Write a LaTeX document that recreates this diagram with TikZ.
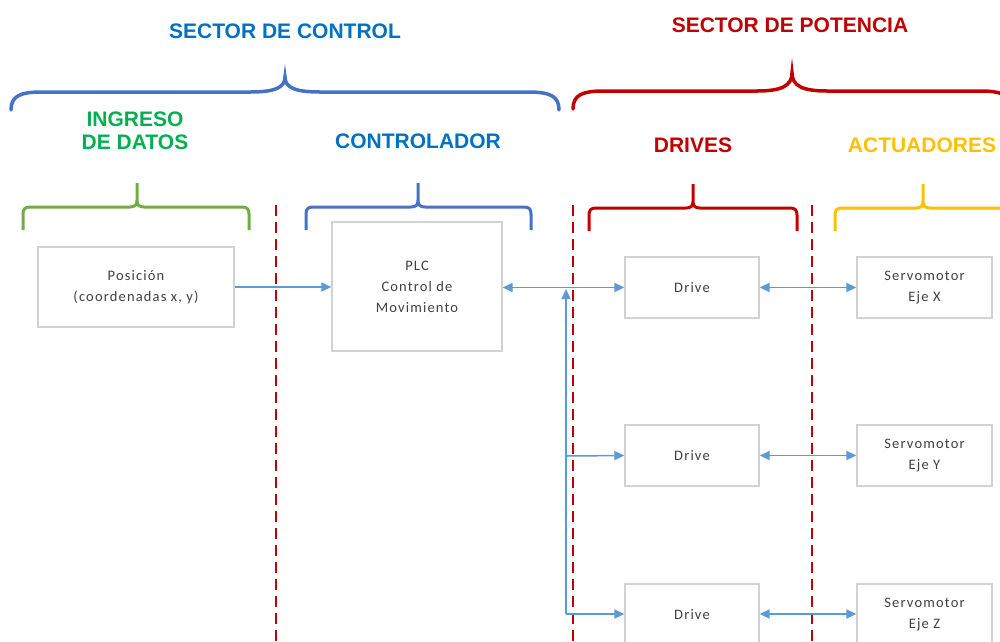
\documentclass[tikz,border=0pt]{standalone}
\usepackage{fontspec}
\setmainfont{Liberation Sans}
\newfontfamily\boxfont[LetterSpace=8]{Carlito}
\usetikzlibrary{arrows.meta,shadows}
\definecolor{hblue}{RGB}{0,112,192}
\definecolor{bblue}{RGB}{68,114,196}
\definecolor{hgreen}{RGB}{0,176,80}
\definecolor{bgreen}{RGB}{112,173,71}
\definecolor{dred}{RGB}{192,0,0}
\definecolor{gold}{RGB}{255,192,0}
\definecolor{ablue}{RGB}{91,155,213}
\definecolor{txtgray}{RGB}{64,64,64}
\begin{document}
\begin{tikzpicture}[x=1pt,y=-1pt,
  heading/.style={font=\fontsize{21}{25}\selectfont\bfseries, inner sep=0pt, align=center},
  bigbrace/.style={line width=3.5pt, line cap=round},
  smallbrace/.style={line width=3pt},
  divider/.style={dred, line width=2.4pt, dash pattern=on 11pt off 6pt},
  blk/.style={draw=gray!35, line width=1.3pt, fill=white, inner sep=0pt,
    font=\boxfont\fontsize{14.5}{21}\selectfont, text=txtgray, align=center,
    drop shadow={shadow xshift=1.2pt, shadow yshift=-1.2pt, opacity=0.12, fill=black}},
  arr/.style={ablue, line width=1.5pt, -{Triangle[length=10pt,width=9pt]}},
  darr/.style={ablue, line width=1.5pt, {Triangle[length=10pt,width=9pt]}-{Triangle[length=10pt,width=9pt]}}
]
\clip (0,0) rectangle (1000,641);
\fill[white] (0,0) rectangle (1000,641);

% headings
\node[heading, text=hblue] (hctl) at (285,31) {SECTOR DE CONTROL};
\node[heading, text=dred] (hpot) at (790,25) {SECTOR DE POTENCIA};
\node[heading, text=hgreen] (hing) at (135,131) {INGRESO\\[-2pt]DE DATOS};
\node[heading, text=hblue] (hcon) at (418,141) {CONTROLADOR};
\node[heading, text=dred] (hdrv) at (693,145) {DRIVES};
\node[heading, text=gold] (hact) at (922,145) {ACTUADORES};

% big braces
\draw[bigbrace, bblue] (11,110) .. controls (11,96) and (20,92) .. (42,92) -- (250,92)
  .. controls (274,92) and (285,88) .. (285,77)
  .. controls (285,88) and (296,92) .. (320,92) -- (528,92)
  .. controls (550,92) and (559,96) .. (559,110);
\draw[bigbrace, dred] (573,109) .. controls (573,95) and (582,91) .. (604,91) -- (757,91)
  .. controls (781,91) and (792,86) .. (792,73)
  .. controls (792,86) and (803,91) .. (827,91) -- (980,91)
  .. controls (1002,91) and (1011,95) .. (1011,109);

% small braces
\draw[smallbrace, bgreen] (23,230) -- (23,214) .. controls (23,209) and (25,207) .. (30,207) -- (130,207)
  .. controls (135,207) and (137,205) .. (137,200) -- (137,183)
  (137,200) .. controls (137,205) and (139,207) .. (144,207) -- (242,207)
  .. controls (247,207) and (249,209) .. (249,214) -- (249,230);
\draw[smallbrace, bblue] (306,230) -- (306,214) .. controls (306,209) and (308,207) .. (313,207) -- (411,207)
  .. controls (416,207) and (418,205) .. (418,200) -- (418,183)
  (418,200) .. controls (418,205) and (420,207) .. (425,207) -- (524,207)
  .. controls (529,207) and (531,209) .. (531,214) -- (531,230);
\draw[smallbrace, dred] (589,231) -- (589,215) .. controls (589,210) and (591,208) .. (596,208) -- (686,208)
  .. controls (691,208) and (693,206) .. (693,201) -- (693,184)
  (693,201) .. controls (693,206) and (695,208) .. (700,208) -- (790,208)
  .. controls (795,208) and (797,210) .. (797,215) -- (797,231);
\draw[smallbrace, gold] (835,231) -- (835,215) .. controls (835,210) and (837,208) .. (842,208) -- (916,208)
  .. controls (921,208) and (923,206) .. (923,201) -- (923,184)
  (923,201) .. controls (923,206) and (925,208) .. (930,208) -- (1004,208)
  .. controls (1009,208) and (1011,210) .. (1011,215) -- (1011,231);

% dividers
\draw[divider] (276,205) -- (276,645);
\draw[divider] (573,205) -- (573,645);
\draw[divider] (812,205) -- (812,645);

% boxes
\node[blk, minimum width=196pt, minimum height=80pt] (pos) at (136,287) {Posición\\(coordenadas x, y)};
\node[blk, minimum width=170pt, minimum height=129pt] (plc) at (417,286.5) {PLC\\Control de\\Movimiento};
\node[blk, minimum width=134pt, minimum height=61pt] (d1) at (692,287.5) {Drive};
\node[blk, minimum width=135pt, minimum height=61pt] (s1) at (924.5,287.5) {Servomotor\\Eje X};
\node[blk, minimum width=134pt, minimum height=61pt] (d2) at (692,455.5) {Drive};
\node[blk, minimum width=135pt, minimum height=61pt] (s2) at (924.5,455.5) {Servomotor\\Eje Y};
\node[blk, minimum width=134pt, minimum height=61pt] (d3) at (692,614.5) {Drive};
\node[blk, minimum width=135pt, minimum height=61pt] (s3) at (924.5,614.5) {Servomotor\\Eje Z};

% connectors
\coordinate (bus) at (566,289);
\coordinate (b2) at (566,456);
\coordinate (b3) at (566,614);
\draw[arr] (pos.east) -- (pos.east -| plc.west);
\draw[darr] (plc.east |- d1.west) -- (d1.west);
\draw[arr] (b3) -- (bus);
\draw[arr] (b2) -- (d2.west);
\draw[arr] (b3) -- (b3 -| d3.west);
\draw[darr] (d1.east) -- (s1.west);
\draw[darr] (d2.east) -- (s2.west);
\draw[darr] (d3.east |- b3) -- (s3.west |- b3);
\end{tikzpicture}
\end{document}
